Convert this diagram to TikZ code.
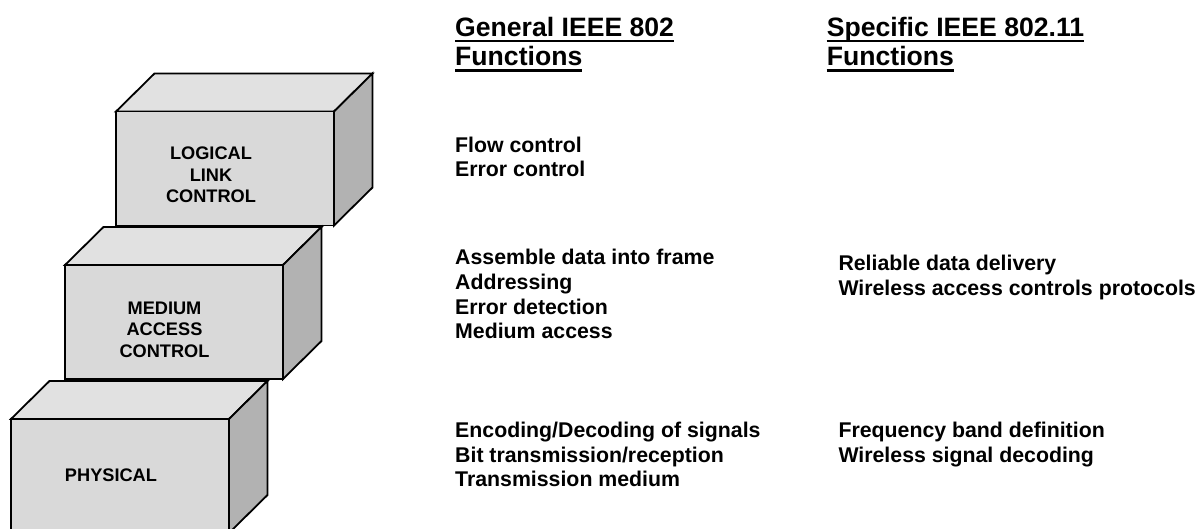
\documentclass[tikz,border=0pt]{standalone}
\usepackage{fontspec}
\setmainfont{Liberation Sans}
\definecolor{topgray}{RGB}{225,225,225}
\definecolor{frontgray}{RGB}{217,217,217}
\definecolor{sidegray}{RGB}{178,178,178}

% one layer block: front face top-left corner at (#1,#2)
\newcommand{\layerblock}[2]{%
  \filldraw[blockline,fill=topgray] (#1,#2) -- ++(38.5,-38) -- ++(218,0) -- ++(-38.5,38) -- cycle;
  \filldraw[blockline,fill=sidegray] (#1+218,#2) -- ++(38.5,-38) -- ++(0,114) -- ++(-38.5,38) -- cycle;
  \filldraw[blockline,fill=frontgray] (#1,#2) rectangle ++(218,114);
}

\begin{document}
\begin{tikzpicture}[x=1pt,y=-1pt,
  blockline/.style={draw=black,line width=1.8pt},
  layerlabel/.style={align=center,inner sep=0pt,font=\bfseries\fontsize{18.2}{21.5}\selectfont},
  heading/.style={anchor=base west,inner sep=0pt,font=\bfseries\fontsize{26.6}{30}\selectfont},
  bodyline/.style={anchor=base west,inner sep=0pt,font=\bfseries\fontsize{21.3}{24.5}\selectfont},
  rule/.style={line width=2.3pt}]
\useasboundingbox (0,0) rectangle (1199,529);
\clip (0,0) rectangle (1199,529);

% the three stacked layers
\layerblock{116}{111.5}
\layerblock{65}{265}
\layerblock{11}{419}

\node[layerlabel] (llc) at (211,175) {LOGICAL\\LINK\\CONTROL};
\node[layerlabel] (mac) at (164.5,329.5) {MEDIUM\\ACCESS\\CONTROL};
\node[layerlabel] (phy) at (111,475.3) {PHYSICAL};

% column headings
\node[heading] (h1a) at (455,36.7) {General IEEE 802};
\node[heading] (h1b) at (455,66) {Functions};
\node[heading] (h2a) at (826.7,36.7) {Specific IEEE 802.11};
\node[heading] (h2b) at (826.7,66) {Functions};
\foreach \h in {h1a,h1b,h2a,h2b}
  \draw[rule] ([yshift=-4.5pt]\h.base west) -- ([yshift=-4.5pt]\h.base east);

% general functions
\foreach [count=\i] \t in {Flow control, Error control}
  \node[bodyline] (gl\i) at (455,{152.7+24*(\i-1)}) {\t};
\foreach [count=\i] \t in {Assemble data into frame, Addressing, Error detection, Medium access}
  \node[bodyline] (gm\i) at (455,{265+24.5*(\i-1)}) {\t};
\foreach [count=\i] \t in {Encoding/Decoding of signals, Bit transmission/reception, Transmission medium}
  \node[bodyline] (gp\i) at (455,{437.7+24.6*(\i-1)}) {\t};

% 802.11 specific functions
\foreach [count=\i] \t in {Reliable data delivery, Wireless access controls protocols}
  \node[bodyline] (sm\i) at (838.3,{270.7+25*(\i-1)}) {\t};
\foreach [count=\i] \t in {Frequency band definition, Wireless signal decoding}
  \node[bodyline] (sp\i) at (838.3,{437.3+25*(\i-1)}) {\t};
\end{tikzpicture}
\end{document}
